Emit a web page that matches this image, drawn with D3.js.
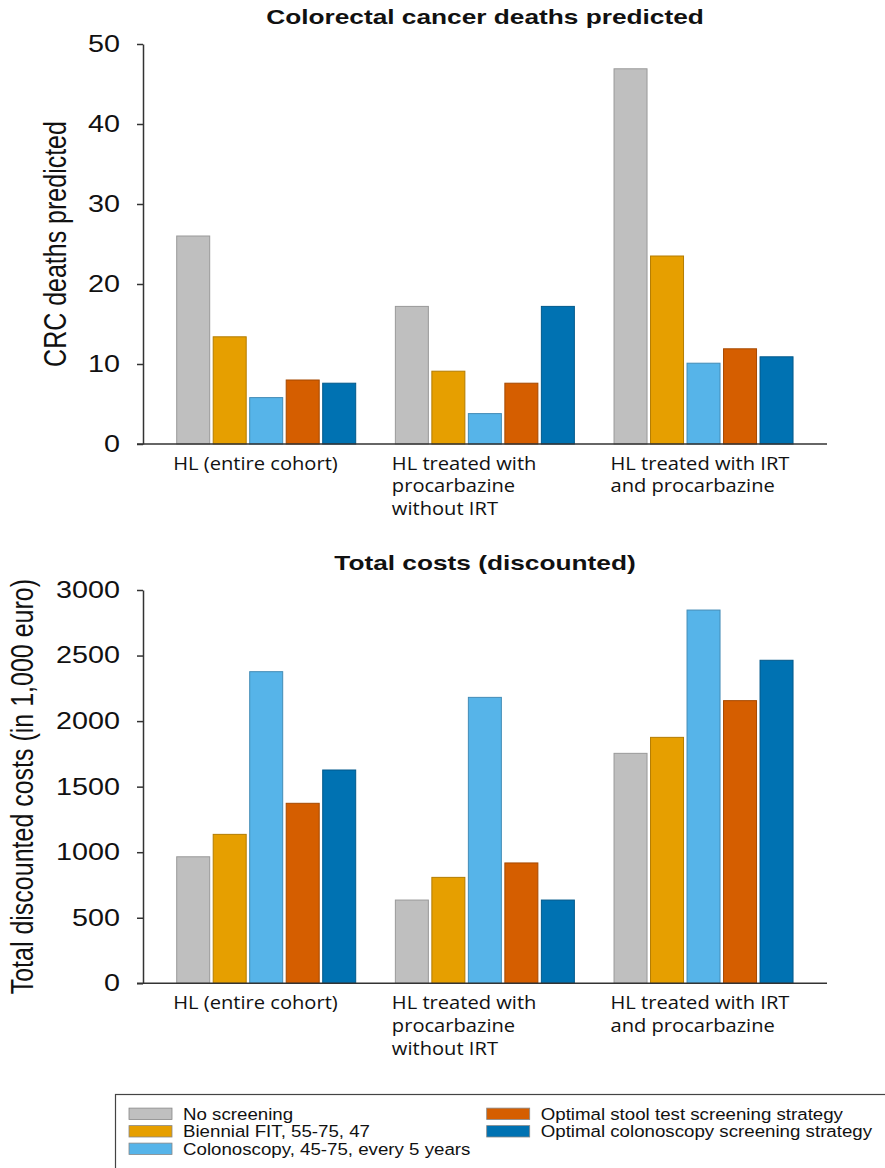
<!DOCTYPE html>
<html>
<head>
<meta charset="utf-8">
<script src="https://cdn.jsdelivr.net/npm/d3@7"></script>
<style>
  body { margin: 0; background: #fff; }
  svg { display: block; }
</style>
</head>
<body>
<svg id="chart" width="885" height="1168"></svg>
<script>
"use strict";

// data
const categories = [
  ["HL (entire cohort)"],
  ["HL treated with", "procarbazine", "without IRT"],
  ["HL treated with IRT", "and procarbazine"]
];
const seriesNames = [
  "No screening",
  "Biennial FIT, 55-75, 47",
  "Colonoscopy, 45-75, every 5 years",
  "Optimal stool test screening strategy",
  "Optimal colonoscopy screening strategy"
];
const seriesColors = ["#bfbfbf", "#e69f00", "#56b4e9", "#d55e00", "#0072b2"];

// rows = categories, columns = series
const crcDeaths = [
  [26.0, 13.4, 5.8, 8.0, 7.6],
  [17.2, 9.1, 3.8, 7.6, 17.2],
  [46.9, 23.5, 10.1, 11.9, 10.9]
];
const totalCosts = [
  [965, 1136, 2377, 1373, 1627],
  [635, 808, 2181, 918, 635],
  [1754, 1876, 2847, 2156, 2464]
];
const crcTicks = [0, 10, 20, 30, 40, 50];
const costTicks = [0, 500, 1000, 1500, 2000, 2500, 3000];

const svg = d3.select("#chart");
const STRETCH = 1.25;  // the original figure is widened horizontally

const axisX = 143;
const groupScale = d3.scaleBand()
  .domain(d3.range(categories.length))
  .range([157.5, 813.5])
  .padding(0);
const barScale = d3.scaleBand()
  .domain(d3.range(seriesNames.length))
  .range([19.2, 198.2])
  .paddingInner(0.096)
  .paddingOuter(0);

function drawPanel(opts) {
  const g = svg.append("g");
  const y = d3.scaleLinear().domain(opts.domain).range(opts.range);

  // title
  g.append("g")
    .attr("transform", `translate(485,${opts.titleY}) scale(${STRETCH},1)`)
    .append("text")
    .attr("text-anchor", "middle")
    .style("font-family", "'Liberation Sans', Arial, sans-serif")
    .style("font-weight", "bold")
    .style("font-size", "21px")
    .attr("fill", "#111")
    .text(opts.title);

  // y axis label
  g.append("g")
    .attr("transform", `translate(${opts.labelX},${(opts.range[0] + opts.range[1]) / 2}) scale(${STRETCH},1) rotate(-90)`)
    .append("text")
    .attr("text-anchor", "middle")
    .style("font-family", "'Liberation Sans', Arial, sans-serif")
    .style("font-size", "25px")
    .attr("fill", "#111")
    .text(opts.yLabel);

  // bars
  opts.values.forEach((row, ci) => {
    g.append("g")
      .attr("transform", `translate(${groupScale(ci)},0)`)
      .selectAll("rect")
      .data(row)
      .join("rect")
      .attr("x", (d, i) => barScale(i))
      .attr("y", (d) => y(d))
      .attr("width", barScale.bandwidth())
      .attr("height", (d) => y(0) - y(d))
      .attr("fill", (d, i) => seriesColors[i])
      .attr("stroke", (d, i) => i === 0 ? "#999" : d3.color(seriesColors[i]).darker(0.7))
      .attr("stroke-width", 1);
  });

  // y axis
  const axis = g.append("g")
    .attr("transform", `translate(${axisX},0)`)
    .call(d3.axisLeft(y).tickValues(opts.ticks).tickSize(6).tickSizeOuter(0).tickFormat(d3.format("d")));
  axis.select(".domain").attr("stroke", "#333").attr("stroke-width", 1.5);
  axis.selectAll(".tick line").attr("stroke", "#333").attr("stroke-width", 1.5);
  axis.selectAll(".tick text")
    .attr("x", null)
    .attr("transform", `translate(-23,0) scale(${STRETCH},1)`)
    .attr("fill", "#111")
    .style("font-family", "'Liberation Sans', Arial, sans-serif")
    .style("font-size", "23px");

  // x axis baseline
  g.append("line")
    .attr("x1", axisX - 6)
    .attr("x2", groupScale.range()[1] + 13.5)
    .attr("y1", y(0))
    .attr("y2", y(0))
    .attr("stroke", "#333")
    .attr("stroke-width", 1.5);

  // category labels
  categories.forEach((lines, ci) => {
    const t = g.append("g")
      .attr("transform", `translate(${groupScale(ci) + barScale(0) - 3.5},${y(0) + 25.5}) scale(1.15,1)`)
      .append("text")
      .style("font-family", "'Open Sans', sans-serif")
      .style("font-size", "17.5px")
      .attr("fill", "#111");
    lines.forEach((line, li) => {
      t.append("tspan").attr("x", 0).attr("y", li * 23).text(line);
    });
  });
}

drawPanel({
  title: "Colorectal cancer deaths predicted",
  titleY: 24,
  yLabel: "CRC deaths predicted",
  labelX: 66,
  domain: [0, 50],
  range: [444, 44],
  ticks: crcTicks,
  values: crcDeaths
});

drawPanel({
  title: "Total costs (discounted)",
  titleY: 570,
  yLabel: "Total discounted costs (in 1,000 euro)",
  labelX: 33,
  domain: [0, 3000],
  range: [983.3, 590],
  ticks: costTicks,
  values: totalCosts
});

// legend
const legend = svg.append("g");
legend.append("rect")
  .attr("x", 115.5)
  .attr("y", 1094.5)
  .attr("width", 800)
  .attr("height", 120)
  .attr("fill", "#fff")
  .attr("stroke", "#444")
  .attr("stroke-width", 1.2);

const legendCols = [129, 486.7];
const legendRowY = d3.scaleLinear().domain([0, 1]).range([1113.8, 1131.3]);
seriesNames.forEach((name, i) => {
  const col = i < 3 ? 0 : 1;
  const row = i < 3 ? i : i - 3;
  const item = legend.append("g")
    .attr("transform", `translate(${legendCols[col]},${legendRowY(row)})`);
  item.append("rect")
    .attr("x", 0)
    .attr("y", -5.7)
    .attr("width", 43)
    .attr("height", 11.4)
    .attr("fill", seriesColors[i])
    .attr("stroke", "#888")
    .attr("stroke-width", 0.8);
  item.append("g")
    .attr("transform", "translate(54,6) scale(1.1,1)")
    .append("text")
    .style("font-family", "'Liberation Sans', Arial, sans-serif")
    .style("font-size", "17px")
    .attr("fill", "#111")
    .text(name);
});
</script>
</body>
</html>
